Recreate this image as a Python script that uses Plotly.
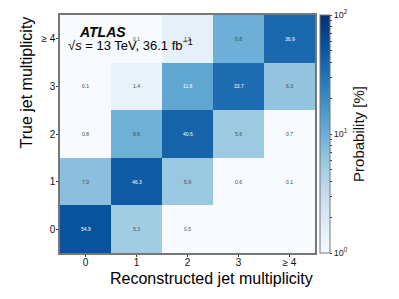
import numpy as np
import plotly.graph_objects as go

reco_labels = ["0", "1", "2", "3", "≥ 4"]
true_labels = ["0", "1", "2", "3", "≥ 4"]

# rows = true multiplicity (0..>=4), columns = reconstructed multiplicity
row_true0 = [54.9, 5.3, 0.5, None, None]
row_true1 = [7.0, 46.3, 5.9, 0.6, 0.1]
row_true2 = [0.8, 9.6, 40.6, 5.6, 0.7]
row_true3 = [0.1, 1.4, 11.8, 33.7, 6.3]
row_true4 = [None, 0.1, 1.5, 9.8, 36.9]
rows = [row_true0, row_true1, row_true2, row_true3, row_true4]

blues = ["#f7fbff", "#deebf7", "#c6dbef", "#9ecae1", "#6baed6",
         "#4292c6", "#2171b5", "#08519c", "#08306b"]
cs = [[i / (len(blues) - 1), c] for i, c in enumerate(blues)]

z = [[(np.log10(v) if v is not None else None) for v in r] for r in rows]

minor = [np.log10(m * d) for d in (1, 10) for m in range(2, 10)]
tickvals = [0, 1, 2] + minor
ticktext = ["10<sup>0</sup>", "10<sup>1</sup>", "10<sup>2</sup>"] + [""] * len(minor)

fig = go.Figure()
fig.add_trace(go.Heatmap(
    x=reco_labels, y=true_labels, z=z, zmin=0, zmax=2,
    colorscale=cs, hoverinfo="skip", xgap=0, ygap=0,
    colorbar=dict(
        x=1.02, xanchor="left", xpad=0, y=0.5, yanchor="middle", len=1, lenmode="fraction",
        ypad=0, thickness=10, outlinewidth=1, outlinecolor="#777777",
        tickvals=tickvals, ticktext=ticktext, ticks="outside", ticklen=2, tickwidth=1,
        tickcolor="#333333", tickfont=dict(size=9, color="#222222"),
        title=dict(text="Probability [%]", side="right", font=dict(size=15, color="#111111")),
    ),
))

annotations = []
for i, r in enumerate(rows):
    for j, v in enumerate(r):
        if v is None:
            continue
        annotations.append(dict(
            x=reco_labels[j], y=true_labels[i], text=f"{v:.1f}", showarrow=False,
            font=dict(size=5, color="white" if v > 10 else "#444444"),
        ))

annotations.append(dict(xref="paper", yref="paper", x=0.067, y=0.929, xanchor="left", yanchor="middle",
                        text="<b><i>ATLAS</i></b>", showarrow=False,
                        font=dict(size=14, color="black", family="Liberation Sans, Arial")))
annotations.append(dict(xref="paper", yref="paper", x=0.022, y=0.872, xanchor="left", yanchor="middle",
                        text="√<i>s</i> = 13 TeV, 36.1 fb<sup>−1</sup>", showarrow=False,
                        font=dict(size=13, color="black", family="Liberation Sans, Arial")))
annotations.append(dict(xref="paper", yref="paper", x=1.0, y=-0.062, xanchor="right", yanchor="top",
                        text="Reconstructed jet multiplicity", showarrow=False,
                        font=dict(size=16, color="black")))
annotations.append(dict(xref="paper", yref="paper", x=-0.094, y=1.0, xanchor="right", yanchor="top",
                        text="True jet multiplicity", showarrow=False, textangle=-90,
                        font=dict(size=16, color="black")))

axis_common = dict(type="category", showline=True, linecolor="#777777", linewidth=1.5, mirror=True,
                   ticks="outside", ticklen=2, tickcolor="#333333", tickfont=dict(size=10, color="#111111"),
                   showgrid=False, zeroline=False, automargin=False)

fig.update_layout(
    width=399, height=299,
    margin=dict(l=60, r=84, t=15, b=46),
    paper_bgcolor="white", plot_bgcolor="#f7fbff",
    font=dict(family="Liberation Sans, Arial, sans-serif", color="black"),
    annotations=annotations,
    xaxis=dict(axis_common, ticklabelstandoff=-3),
    yaxis=dict(axis_common, ticklabelstandoff=-1),
)

fig.write_html("out.html", config={"displayModeBar": False},
               post_script="document.body.style.margin='0';")
